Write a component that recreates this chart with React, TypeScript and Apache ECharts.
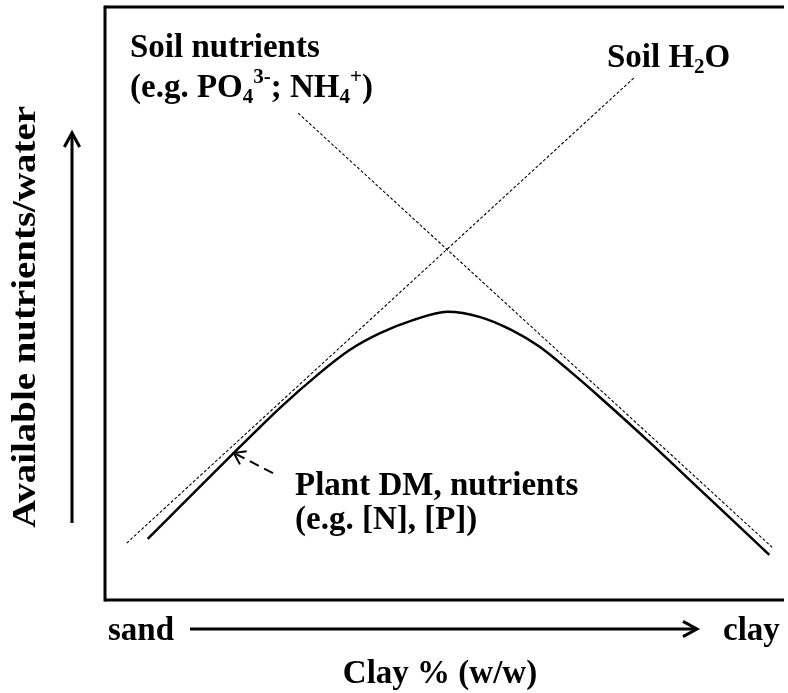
import React, { useEffect, useRef } from "react";
import * as echarts from "echarts";

// Clay content (% w/w, relative) and availability (relative units)
const plantClay = [6.1, 12.1, 18.4, 25.0, 30.7, 35.0, 39.3, 44.0, 48.9, 53.6, 58.3, 62.1, 66.4, 70.7, 77.9, 85.0, 90.7, 94.9];
const plantLevel = [10.3, 17.4, 24.8, 32.4, 38.3, 42.2, 45.0, 47.2, 48.6, 47.7, 45.4, 42.7, 38.6, 34.2, 26.5, 18.6, 12.3, 7.6];
const waterClay = [3.1, 75.7];
const waterLevel = [9.6, 88.2];
const nutrientClay = [27.6, 95.3];
const nutrientLevel = [82.1, 8.9];
const calloutClay = [24.0, 18.4];
const calloutLevel = [21.4, 24.8];

const xLabels = ["sand", "clay"];
const xTitle = "Clay % (w/w)";
const yTitle = "Available nutrients/water";

const FONT = '"Liberation Serif", "Times New Roman", serif';

const zip = (xs: number[], ys: number[]) => xs.map((x, i) => [x, ys[i]]);

function chevron(tip: number[], from: number[], len: number, half: number) {
  const ang = Math.atan2(tip[1] - from[1], tip[0] - from[0]);
  const a1 = ang + Math.PI - half;
  const a2 = ang + Math.PI + half;
  return [
    [tip[0] + len * Math.cos(a1), tip[1] + len * Math.sin(a1)],
    [tip[0], tip[1]],
    [tip[0] + len * Math.cos(a2), tip[1] + len * Math.sin(a2)],
  ];
}

const base = { fontFamily: FONT, fontWeight: "bold" as const, fill: "#000" };
const rich = {
  t: { fontFamily: FONT, fontWeight: "bold", fontSize: 33, lineHeight: 41, color: "#000" },
  sub: { fontFamily: FONT, fontWeight: "bold", fontSize: 21, lineHeight: 21, verticalAlign: "bottom", color: "#000" },
  sup: { fontFamily: FONT, fontWeight: "bold", fontSize: 21, lineHeight: 38, verticalAlign: "top", color: "#000" },
};

export default function App() {
  const ref = useRef<HTMLDivElement>(null);
  useEffect(() => {
    if (!ref.current) return;
    const chart = echarts.init(ref.current, undefined, { renderer: "svg" });
    chart.setOption({
      animation: false,
      grid: {
        left: 105,
        top: 7,
        width: 700,
        height: 593,
        show: false,
        outerBoundsMode: "none",
        containLabel: false,
      },
      xAxis: { type: "value", min: 0, max: 100, show: false },
      yAxis: { type: "value", min: 0, max: 100, show: false },
      series: [
        {
          name: "Soil H2O",
          type: "line",
          data: zip(waterClay, waterLevel),
          symbol: "none",
          lineStyle: { color: "#000", width: 1.1, type: [3, 2] },
        },
        {
          name: "Soil nutrients",
          type: "line",
          data: zip(nutrientClay, nutrientLevel),
          symbol: "none",
          lineStyle: { color: "#000", width: 1.1, type: [3, 2] },
        },
        {
          name: "Plant DM, nutrients",
          type: "line",
          data: zip(plantClay, plantLevel),
          symbol: "none",
          smooth: 0.3,
          lineStyle: { color: "#000", width: 2.5 },
        },
        {
          name: "callout",
          type: "line",
          data: zip(calloutClay, calloutLevel),
          symbol: "none",
          lineStyle: { color: "#000", width: 2, type: [10, 6] },
        },
      ],
    });

    const px = (x: number, y: number) => chart.convertToPixel({ gridIndex: 0 }, [x, y]) as number[];
    const p0 = px(calloutClay[0], calloutLevel[0]);
    const p1 = px(calloutClay[1], calloutLevel[1]);
    const tl = px(0, 100);
    const br = px(100, 0);
    const far = 784;

    const hx0 = 190, hx1 = 697, hy = 629;
    const vx = 72, vy0 = 523, vy1 = 133;

    chart.setOption({
      graphic: [
        { type: "line", shape: { x1: tl[0], y1: tl[1], x2: far, y2: tl[1] }, style: { stroke: "#000", lineWidth: 3 } },
        { type: "line", shape: { x1: tl[0], y1: br[1], x2: far, y2: br[1] }, style: { stroke: "#000", lineWidth: 3 } },
        { type: "line", shape: { x1: tl[0], y1: tl[1] - 1.5, x2: tl[0], y2: br[1] + 1.5 }, style: { stroke: "#000", lineWidth: 3 } },
        { type: "polyline", shape: { points: chevron(p1, p0, 13, 0.6) }, style: { stroke: "#000", lineWidth: 2, fill: "none" } },
        { type: "line", shape: { x1: hx0, y1: hy, x2: hx1 - 1, y2: hy }, style: { stroke: "#000", lineWidth: 3 } },
        { type: "polyline", shape: { points: chevron([hx1, hy], [hx0, hy], 16, 0.5) }, style: { stroke: "#000", lineWidth: 3, fill: "none" } },
        { type: "line", shape: { x1: vx, y1: vy0, x2: vx, y2: vy1 + 1 }, style: { stroke: "#000", lineWidth: 3 } },
        { type: "polyline", shape: { points: chevron([vx, vy1], [vx, vy0], 16, 0.5) }, style: { stroke: "#000", lineWidth: 3, fill: "none" } },
        { type: "text", x: 130, y: 46, style: { ...base, text: "Soil nutrients", fontSize: 33, verticalAlign: "middle" } },
        {
          type: "text", x: 130, y: 86,
          style: { ...base, fontSize: 33, verticalAlign: "middle", text: "{t|(e.g. PO}{sub|4}{sup|3-}{t|; NH}{sub|4}{sup|+}{t|)}", rich },
        },
        {
          type: "text", x: 607, y: 56,
          style: { ...base, fontSize: 33, verticalAlign: "middle", text: "{t|Soil H}{sub|2}{t|O}", rich },
        },
        { type: "text", x: 295, y: 484, style: { ...base, text: "Plant DM, nutrients", fontSize: 33, verticalAlign: "middle" } },
        { type: "text", x: 295, y: 518, style: { ...base, text: "(e.g. [N], [P])", fontSize: 33, verticalAlign: "middle" } },
        { type: "text", x: 108, y: 629, style: { ...base, text: xLabels[0], fontSize: 33, verticalAlign: "middle" } },
        { type: "text", x: 723, y: 629, style: { ...base, text: xLabels[1], fontSize: 33, verticalAlign: "middle" } },
        { type: "text", x: 440, y: 672, style: { ...base, text: xTitle, fontSize: 33, align: "center", verticalAlign: "middle" } },
        {
          type: "text", x: 24, y: 317, rotation: Math.PI / 2, scaleX: 1.18,
          style: { ...base, text: yTitle, fontSize: 33, align: "center", verticalAlign: "middle" },
        },
      ],
    });

    return () => chart.dispose();
  }, []);
  return <div ref={ref} style={{ position: "fixed", left: 0, top: 0, width: 788, height: 693, overflow: "hidden" }} />;
}
